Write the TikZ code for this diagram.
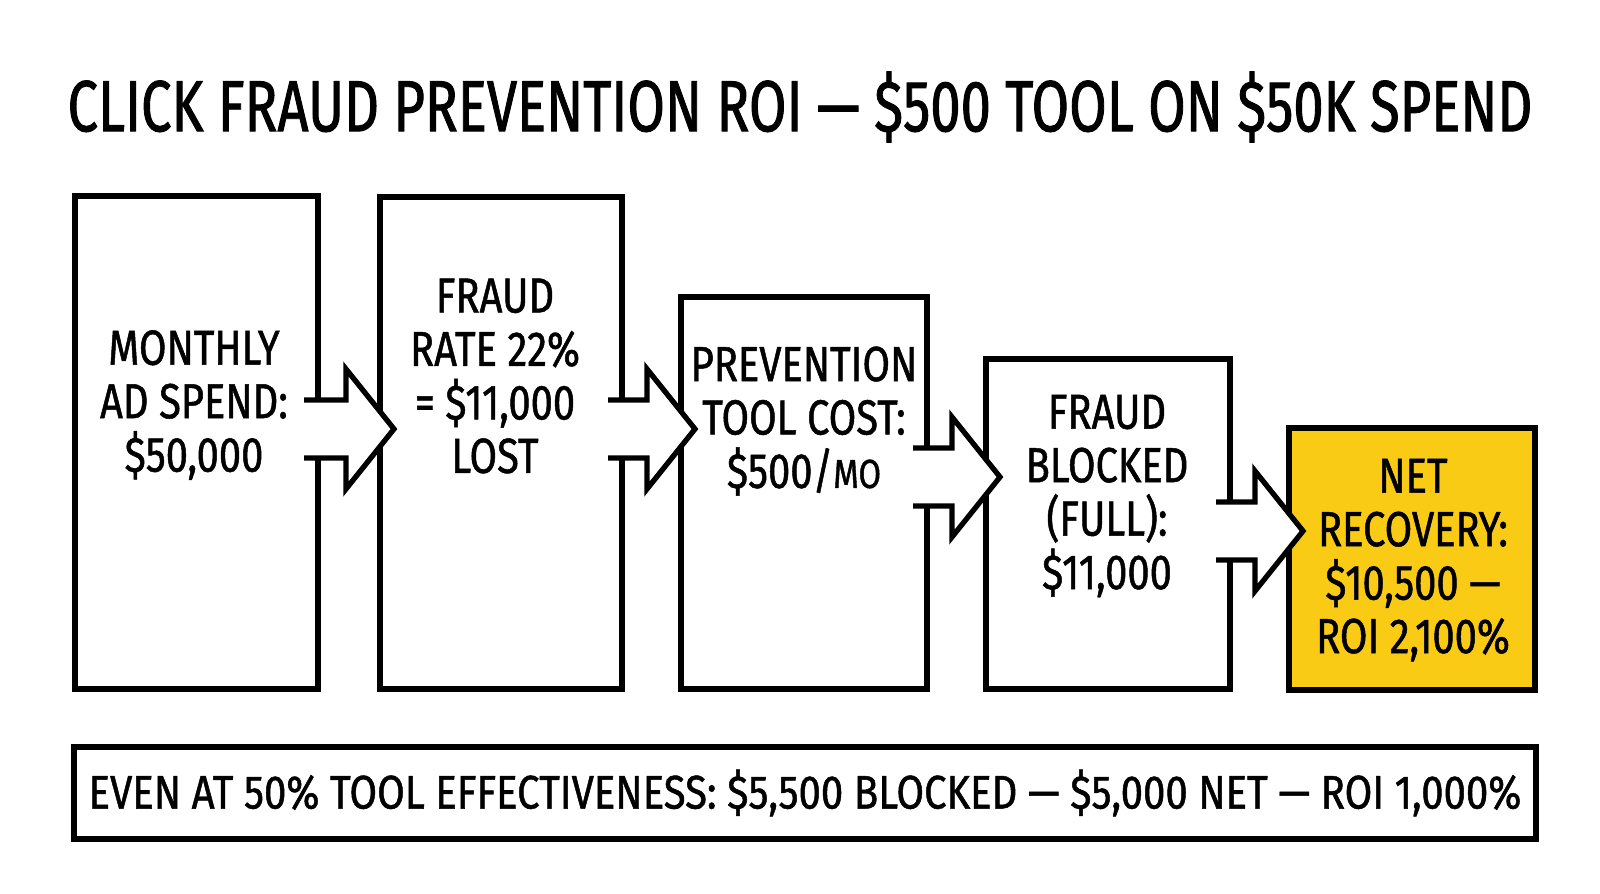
\documentclass[tikz,border=0pt]{standalone}
\usepackage{fontspec}
\setmainfont{Fira Sans}[FakeStretch=0.85, FakeBold=1]
\newfontfamily\headfont{Fira Sans}[FakeStretch=0.75, FakeBold=1.2]
\newfontfamily\boxfont{Fira Sans}[FakeStretch=0.81, FakeBold=1]
\usetikzlibrary{calc, fit}
\definecolor{netyellow}{RGB}{249,203,21}
\tikzset{
  box/.style={draw, line width=1.5pt, inner sep=0pt, outer sep=0pt},
  netbox/.style={box, fill=netyellow},
  boxtext/.style={align=center, inner sep=0pt, font=\boxfont\fontsize{14}{15.2}\selectfont},
  heading/.style={inner sep=0pt, font=\headfont\fontsize{20.6}{22}\selectfont},
  notetext/.style={inner sep=0pt, font=\fontsize{13.4}{15}\selectfont},
  flow/.style={draw, fill=white, line width=1.5pt, line join=miter}
}
\newcommand{\flowarr}[3]{%
  \draw[flow] ($(#1.east |- 0,#3)+(-14,-29)$) -- ($(#2.west |- 0,#3)+(-34,-29)$)
    -- ($(#2.west |- 0,#3)+(-34,-60)$) -- ($(#2.west |- 0,#3)+(14,0)$)
    -- ($(#2.west |- 0,#3)+(-34,60)$) -- ($(#2.west |- 0,#3)+(-34,29)$)
    -- ($(#1.east |- 0,#3)+(-14,29)$);}
\newcommand{\smallmo}[1]{{\fontsize{11.5}{12}\selectfont #1}}

\begin{document}
\begin{tikzpicture}[x=0.01cm, y=-0.01cm]
\useasboundingbox[fill=white] (0,0) rectangle (1600,893);
\node[heading] (title) at (800,107) {CLICK FRAUD PREVENTION ROI — \$500 TOOL ON \$50K SPEND};
\node[box, fit={(75,196) (318,689)}] (spend) {};
\node[box, fit={(380,197) (622,689)}] (fraud) {};
\node[box, fit={(681,297) (927,689)}] (cost) {};
\node[box, fit={(986,359) (1230,689)}] (blocked) {};
\node[netbox, fit={(1289,428) (1535,690)}] (net) {};
\node[box, fit={(74,747) (1536,839)}] (note) {};
\node[notetext] (note-txt) at (note.center) {EVEN AT 50\% TOOL EFFECTIVENESS: \$5,500 BLOCKED — \$5,000 NET — ROI 1,000\%};
\flowarr{spend}{fraud}{429}
\flowarr{fraud}{cost}{429}
\flowarr{cost}{blocked}{477}
\flowarr{blocked}{net}{531}
\node[boxtext] (spend-txt) at (194,405) {MONTHLY\\AD SPEND:\\\$50,000};
\node[boxtext] (fraud-txt) at (495,376) {FRAUD\\RATE 22\%\\= \$11,000\\LOST};
\node[boxtext] (cost-txt) at (804,421) {PREVENTION\\TOOL COST:\\\$500/\smallmo{MO}};
\node[boxtext] (blocked-txt) at (1107,496) {FRAUD\\BLOCKED\\(FULL):\\\$11,000};
\node[boxtext] (net-txt) at (1413,560) {NET\\RECOVERY:\\\$10,500 —\\ROI 2,100\%};
\end{tikzpicture}
\end{document}
